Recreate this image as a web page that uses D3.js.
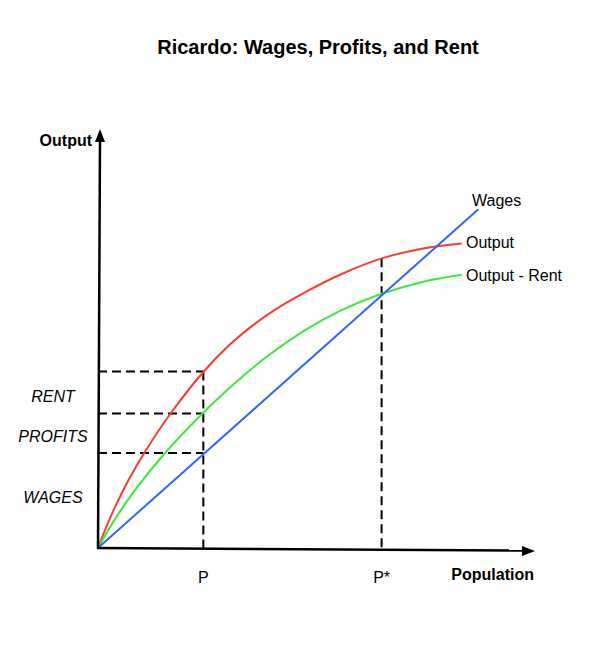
<!DOCTYPE html>
<html>
<head>
<meta charset="utf-8">
<script src="https://cdn.jsdelivr.net/npm/d3@7"></script>
<style>
  html, body { margin: 0; padding: 0; background: #fff; }
  svg { display: block; font-family: "Liberation Sans", Arial, Helvetica, sans-serif; }
</style>
</head>
<body>
<svg id="chart" width="603" height="669"></svg>
<script>
// ---- data (abstract units: population 0-100, output 0-100) ----
const outputX = [0, 1.60, 3.89, 6.93, 10.76, 16.48, 24.10, 29.82, 35.93, 40.11, 47.76, 55.38, 64.92, 74.44, 83.23];
const outputY = [0, 4.27, 9.77, 16.14, 23.01, 31.99, 42.11, 48.33, 53.68, 56.75, 61.39, 65.38, 69.28, 71.67, 72.87];
const netX    = [0, 3.89, 8.47, 14.94, 23.73, 29.82, 35.93, 38.6, 47.76, 55.38, 64.92, 74.44, 83.23];
const netY    = [0, 6.91, 13.85, 22.25, 31.99, 38.04, 43.54, 45.74, 52.34, 56.72, 60.81, 63.71, 65.36];
const wagesX  = [0, 87.03];
const wagesY  = [0, 81.03];
const P = 24.1, Pstar = 64.9;
const shareLevels = [42.2, 32.2, 22.7];           // output, output-rent, wages at P
const PstarTop = 69.3;
const sideLabels = ["RENT", "PROFITS", "WAGES"];
const sideLabelY = [36.4, 26.8, 12.2];
const xTicks = [P, Pstar];
const xTickLabels = ["P", "P*"];

const svg = d3.select("#chart");
const x = d3.scaleLinear().domain([0, 100]).range([98, 535]);
const y = d3.scaleLinear().domain([0, 100]).range([548, 130]);

// title
svg.append("text").attr("x", 318).attr("y", 54).attr("text-anchor", "middle")
  .attr("font-size", 20).attr("font-weight", "bold").text("Ricardo: Wages, Profits, and Rent");

// dashed guides
const g = svg.append("g").attr("stroke", "#000").attr("stroke-width", 2)
  .attr("stroke-dasharray", "9,5").attr("fill", "none");
shareLevels.forEach(v => {
  g.append("line").attr("x1", x(0)).attr("x2", x(P)).attr("y1", y(v)).attr("y2", y(v));
});
g.append("line").attr("x1", x(P)).attr("x2", x(P)).attr("y1", y(shareLevels[0])).attr("y2", y(0));
g.append("line").attr("x1", x(Pstar)).attr("x2", x(Pstar)).attr("y1", y(PstarTop)).attr("y2", y(0));

// curves
const line = d3.line().x(d => x(d[0])).y(d => y(d[1])).curve(d3.curveCatmullRom.alpha(0.5));
const series = [
  { xs: outputX, ys: outputY, color: "#ff3b2f", label: "Output", lx: 466, ly: 248 },
  { xs: netX, ys: netY, color: "#3cea3c", label: "Output - Rent", lx: 466, ly: 281 },
  { xs: wagesX, ys: wagesY, color: "#2f66ff", label: "Wages", lx: 472, ly: 206 }
];
series.forEach(s => {
  const pts = s.xs.map((v, i) => [v, s.ys[i]]);
  svg.append("path").datum(pts).attr("d", line).attr("fill", "none")
    .attr("stroke", s.color).attr("stroke-width", 2);
  svg.append("text").attr("x", s.lx).attr("y", s.ly).attr("font-size", 16).attr("fill", "#000").text(s.label);
});

// axes
const ax = svg.append("g");
ax.append("line").attr("x1", x(0)).attr("y1", y(0) + 1).attr("x2", x(0) + 2).attr("y2", y(0) - 408)
  .attr("stroke", "#000").attr("stroke-width", 2.5);
ax.append("line").attr("x1", x(0) - 1).attr("y1", y(0)).attr("x2", x(100) - 8).attr("y2", y(0) + 2.5)
  .attr("stroke", "#000").attr("stroke-width", 2.5);
// arrowheads
ax.append("path").attr("d", `M${x(0)+2},${y(0)-419} L${x(0)-3},${y(0)-406} L${x(0)+7},${y(0)-406} Z`).attr("fill", "#000");
ax.append("path").attr("d", `M${x(100)},${y(0)+3} L${x(100)-13},${y(0)-2} L${x(100)-13},${y(0)+8} Z`).attr("fill", "#000");

svg.append("text").attr("x", 92).attr("y", 146).attr("text-anchor", "end")
  .attr("font-size", 16).attr("font-weight", "bold").text("Output");
svg.append("text").attr("x", 534).attr("y", 580).attr("text-anchor", "end")
  .attr("font-size", 16).attr("font-weight", "bold").text("Population");

// x tick labels
xTicks.forEach((t, i) => {
  svg.append("text").attr("x", x(t)).attr("y", 583).attr("text-anchor", "middle")
    .attr("font-size", 16).text(xTickLabels[i]);
});

// side labels
sideLabels.forEach((lab, i) => {
  svg.append("text").attr("x", 53).attr("y", y(sideLabelY[i]) + 6).attr("text-anchor", "middle")
    .attr("font-size", 16).attr("font-style", "italic").text(lab);
});
</script>
</body>
</html>
